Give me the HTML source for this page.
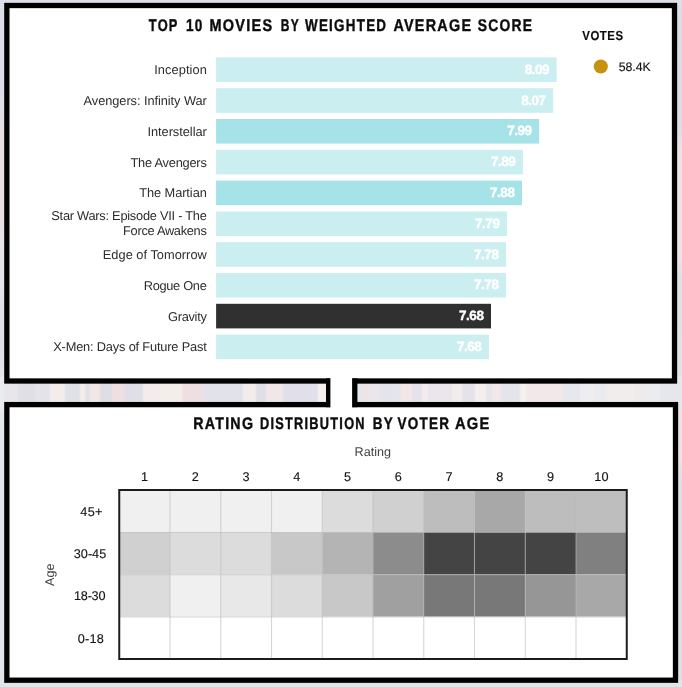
<!DOCTYPE html>
<html lang="en">
<head>
<meta charset="utf-8">
<title>Top 10 Movies Dashboard</title>
<style>
html,body{margin:0;padding:0;background:#e3e2e9;}
body{width:682px;height:687px;overflow:hidden;position:relative;}
svg{display:block;position:absolute;left:0;top:0;will-change:transform;}
text{text-rendering:geometricPrecision;}
text{font-family:"Liberation Sans",Arial,sans-serif;}
.t{font-weight:700;fill:#0c0c0c;stroke:#0c0c0c;stroke-width:0.4px;}
.lab{font-size:12.8px;fill:#2c2c2c;}
.val{font-size:13.5px;font-weight:700;text-anchor:end;letter-spacing:-0.5px;stroke:#fff;stroke-width:0.4px;}
.ax{font-size:12.7px;fill:#151515;stroke:#151515;stroke-width:0.15px;text-anchor:middle;}
.axt{font-size:12.6px;fill:#444;text-anchor:middle;}
</style>
</head>
<body>
<svg width="682" height="687" viewBox="0 0 682 687">
<defs>
<linearGradient id="bgv" x1="0" y1="0" x2="0" y2="1">
<stop offset="0" stop-color="#dcdee8"/>
<stop offset="0.13" stop-color="#dedee8"/>
<stop offset="0.20" stop-color="#e8dfe4"/>
<stop offset="0.30" stop-color="#e8e0e5"/>
<stop offset="0.40" stop-color="#e5e4ea"/>
<stop offset="0.50" stop-color="#dddfe5"/>
<stop offset="0.565" stop-color="#e8eaee"/>
<stop offset="0.62" stop-color="#e3e6ea"/>
<stop offset="1" stop-color="#e1e4e8"/>
</linearGradient>
<linearGradient id="bgr" x1="0" y1="0" x2="0" y2="1">
<stop offset="0" stop-color="#dcdce6"/>
<stop offset="0.18" stop-color="#dedde6"/>
<stop offset="0.22" stop-color="#efe2e6"/>
<stop offset="0.37" stop-color="#efe2e6"/>
<stop offset="0.40" stop-color="#dfe1e6"/>
<stop offset="0.55" stop-color="#e0e2e8"/>
<stop offset="0.59" stop-color="#efe1e5"/>
<stop offset="0.67" stop-color="#eee1e5"/>
<stop offset="0.70" stop-color="#dedfe5"/>
<stop offset="1" stop-color="#dedfe4"/>
</linearGradient>
<linearGradient id="bgh" x1="0" y1="0" x2="1" y2="0">
<stop offset="0.0000" stop-color="#e9ebee"/><stop offset="0.0041" stop-color="#e9ebee"/>
<stop offset="0.0076" stop-color="#e8e6eb"/><stop offset="0.0246" stop-color="#e8e6eb"/>
<stop offset="0.0282" stop-color="#e0dfe6"/><stop offset="0.0496" stop-color="#e0dfe6"/>
<stop offset="0.0531" stop-color="#e4e3ea"/><stop offset="0.0716" stop-color="#e4e3ea"/>
<stop offset="0.0751" stop-color="#f3eceb"/><stop offset="0.0935" stop-color="#f3eceb"/>
<stop offset="0.0971" stop-color="#e0e0e7"/><stop offset="0.1155" stop-color="#e0e0e7"/>
<stop offset="0.1191" stop-color="#f3eeea"/><stop offset="0.1229" stop-color="#f3eeea"/>
<stop offset="0.1264" stop-color="#e3e1e8"/><stop offset="0.1302" stop-color="#e3e1e8"/>
<stop offset="0.1337" stop-color="#f0e7e6"/><stop offset="0.1449" stop-color="#f0e7e6"/>
<stop offset="0.1484" stop-color="#dcdde5"/><stop offset="0.1625" stop-color="#dcdde5"/>
<stop offset="0.1660" stop-color="#f0dfe0"/><stop offset="0.1801" stop-color="#f0dfe0"/>
<stop offset="0.1836" stop-color="#e0dfe8"/><stop offset="0.2079" stop-color="#e0dfe8"/>
<stop offset="0.2114" stop-color="#f4ecea"/><stop offset="0.2328" stop-color="#f4ecea"/>
<stop offset="0.2364" stop-color="#f4eeeb"/><stop offset="0.2651" stop-color="#f4eeeb"/>
<stop offset="0.2686" stop-color="#eedfe2"/><stop offset="0.2959" stop-color="#eedfe2"/>
<stop offset="0.2994" stop-color="#e2e3ea"/><stop offset="0.3545" stop-color="#e2e3ea"/>
<stop offset="0.3581" stop-color="#f3eced"/><stop offset="0.3736" stop-color="#f3eced"/>
<stop offset="0.3771" stop-color="#e0dfe8"/><stop offset="0.3883" stop-color="#e0dfe8"/>
<stop offset="0.3918" stop-color="#f1e7e8"/><stop offset="0.4132" stop-color="#f1e7e8"/>
<stop offset="0.4167" stop-color="#e1e0ea"/><stop offset="0.4645" stop-color="#e1e0ea"/>
<stop offset="0.4680" stop-color="#f6efed"/><stop offset="0.4821" stop-color="#f6efed"/>
<stop offset="0.4856" stop-color="#eae8ed"/><stop offset="0.5217" stop-color="#eae8ed"/>
<stop offset="0.5252" stop-color="#e6e6ed"/><stop offset="0.5305" stop-color="#e6e6ed"/>
<stop offset="0.5340" stop-color="#f0e3e4"/><stop offset="0.5364" stop-color="#f0e3e4"/>
<stop offset="0.5399" stop-color="#eae7ec"/><stop offset="0.5554" stop-color="#eae7ec"/>
<stop offset="0.5589" stop-color="#e4e4ec"/><stop offset="0.5848" stop-color="#e4e4ec"/>
<stop offset="0.5883" stop-color="#f1e7e8"/><stop offset="0.6023" stop-color="#f1e7e8"/>
<stop offset="0.6059" stop-color="#e4e2eb"/><stop offset="0.6170" stop-color="#e4e2eb"/>
<stop offset="0.6205" stop-color="#f2edec"/><stop offset="0.6258" stop-color="#f2edec"/>
<stop offset="0.6293" stop-color="#eae6eb"/><stop offset="0.6610" stop-color="#eae6eb"/>
<stop offset="0.6645" stop-color="#f2eded"/><stop offset="0.6757" stop-color="#f2eded"/>
<stop offset="0.6792" stop-color="#e4e3eb"/><stop offset="0.6947" stop-color="#e4e3eb"/>
<stop offset="0.6982" stop-color="#f4eeed"/><stop offset="0.7109" stop-color="#f4eeed"/>
<stop offset="0.7144" stop-color="#e6e4ec"/><stop offset="0.7196" stop-color="#e6e4ec"/>
<stop offset="0.7232" stop-color="#f1e8e9"/><stop offset="0.7328" stop-color="#f1e8e9"/>
<stop offset="0.7364" stop-color="#e4e4ec"/><stop offset="0.7607" stop-color="#e4e4ec"/>
<stop offset="0.7642" stop-color="#f5f1f0"/><stop offset="0.7695" stop-color="#f5f1f0"/>
<stop offset="0.7730" stop-color="#f2e8e9"/><stop offset="0.8238" stop-color="#f2e8e9"/>
<stop offset="0.8273" stop-color="#e7e8ee"/><stop offset="0.8487" stop-color="#e7e8ee"/>
<stop offset="0.8522" stop-color="#eeeef1"/><stop offset="0.8707" stop-color="#eeeef1"/>
<stop offset="0.8742" stop-color="#eaebee"/><stop offset="0.8868" stop-color="#eaebee"/>
<stop offset="0.8903" stop-color="#f1edec"/><stop offset="0.9279" stop-color="#f1edec"/>
<stop offset="0.9314" stop-color="#eeebec"/><stop offset="0.9513" stop-color="#eeebec"/>
<stop offset="0.9548" stop-color="#ebecf0"/><stop offset="0.9660" stop-color="#ebecf0"/>
<stop offset="0.9695" stop-color="#e6e7ed"/><stop offset="0.9982" stop-color="#e6e7ed"/>
</linearGradient>
</defs>
<rect x="0" y="0" width="682" height="687" fill="url(#bgv)"/>
<rect x="660" y="8" width="22" height="672" fill="url(#bgr)"/>
<rect x="0" y="376" width="682" height="34" fill="url(#bgh)"/>
<rect x="6.85" y="5.5" width="667.65" height="375.5" fill="#ffffff" stroke="#000" stroke-width="5.3"/>
<rect x="6.85" y="404.6" width="668.65" height="275.6" fill="#ffffff" stroke="#000" stroke-width="5.3"/>
<rect x="326" y="378.4" width="31.4" height="28.8" fill="#000"/>
<rect x="330.4" y="376" width="21.7" height="34" fill="#fff"/>
<text class="t" transform="translate(148.8,30.8) scale(0.756,1)" font-size="17.0" textLength="37.9" lengthAdjust="spacing">TOP</text>
<text class="t" transform="translate(186.0,30.8) scale(0.801,1)" font-size="17.0" textLength="20.5" lengthAdjust="spacing">10</text>
<text class="t" transform="translate(209.5,30.8) scale(0.851,1)" font-size="17.0" textLength="73.5" lengthAdjust="spacing">MOVIES</text>
<text class="t" transform="translate(280.8,30.8) scale(0.705,1)" font-size="17.0" textLength="25.4" lengthAdjust="spacing">BY</text>
<text class="t" transform="translate(305.0,30.8) scale(0.789,1)" font-size="17.0" textLength="102.7" lengthAdjust="spacing">WEIGHTED</text>
<text class="t" transform="translate(393.4,30.8) scale(0.847,1)" font-size="17.0" textLength="91.7" lengthAdjust="spacing">AVERAGE</text>
<text class="t" transform="translate(477.8,30.8) scale(0.815,1)" font-size="17.0" textLength="66.6" lengthAdjust="spacing">SCORE</text>
<rect x="216.1" y="57.40" width="340.60" height="24.6" fill="#cbeef1"/>
<text class="val" x="549.1" y="73.8" fill="#ffffff">8.09</text>
<text class="lab" x="154.2" y="74.2" textLength="52.6" lengthAdjust="spacing">Inception</text>
<rect x="216.1" y="88.20" width="337.10" height="24.6" fill="#cbeef1"/>
<text class="val" x="545.6" y="104.6" fill="#ffffff">8.07</text>
<text class="lab" x="83.6" y="105.0" textLength="123.2" lengthAdjust="spacing">Avengers: Infinity War</text>
<rect x="216.1" y="119.00" width="323.00" height="24.6" fill="#a5e3e9"/>
<text class="val" x="531.5" y="135.4" fill="#ffffff">7.99</text>
<text class="lab" x="147.4" y="135.8" textLength="59.4" lengthAdjust="spacing">Interstellar</text>
<rect x="216.1" y="149.80" width="306.80" height="24.6" fill="#cbeef1"/>
<text class="val" x="515.3" y="166.2" fill="#ffffff">7.89</text>
<text class="lab" x="130.5" y="166.6" textLength="76.3" lengthAdjust="spacing">The Avengers</text>
<rect x="216.1" y="180.60" width="305.90" height="24.6" fill="#a5e3e9"/>
<text class="val" x="514.4" y="197.0" fill="#ffffff">7.88</text>
<text class="lab" x="139.2" y="197.4" textLength="67.6" lengthAdjust="spacing">The Martian</text>
<rect x="216.1" y="211.40" width="290.90" height="24.6" fill="#cbeef1"/>
<text class="val" x="499.4" y="227.8" fill="#ffffff">7.79</text>
<text class="lab" x="51.3" y="219.9" textLength="155.5" lengthAdjust="spacing">Star Wars: Episode VII - The</text>
<text class="lab" x="123.1" y="235.2" textLength="83.7" lengthAdjust="spacing">Force Awakens</text>
<rect x="216.1" y="242.20" width="289.90" height="24.6" fill="#cbeef1"/>
<text class="val" x="498.4" y="258.6" fill="#ffffff">7.78</text>
<text class="lab" x="102.8" y="259.0" textLength="104.0" lengthAdjust="spacing">Edge of Tomorrow</text>
<rect x="216.1" y="273.00" width="289.90" height="24.6" fill="#cbeef1"/>
<text class="val" x="498.4" y="289.4" fill="#ffffff">7.78</text>
<text class="lab" x="143.7" y="289.8" textLength="63.1" lengthAdjust="spacing">Rogue One</text>
<rect x="216.1" y="303.80" width="274.90" height="24.6" fill="#303030"/>
<text class="val" x="483.4" y="320.2" fill="#ffffff">7.68</text>
<text class="lab" x="168.0" y="320.6" textLength="38.8" lengthAdjust="spacing">Gravity</text>
<rect x="216.1" y="334.60" width="272.80" height="24.6" fill="#cbeef1"/>
<text class="val" x="481.3" y="351.0" fill="#ffffff">7.68</text>
<text class="lab" x="53.2" y="351.4" textLength="153.6" lengthAdjust="spacing">X-Men: Days of Future Past</text>
<text class="t" style="stroke-width:0.15px" transform="translate(582.3,40.1) scale(0.88,1)" font-size="13.0" textLength="46.4" lengthAdjust="spacing">VOTES</text>
<circle cx="600.8" cy="66.5" r="7.05" fill="#c8920f"/>
<text x="618.8" y="71.1" font-size="12.3" fill="#141414" stroke="#141414" stroke-width="0.15" textLength="31.8" lengthAdjust="spacing">58.4K</text>
<text class="t" transform="translate(193.2,429.3) scale(0.853,1)" font-size="16.7" textLength="70.1" lengthAdjust="spacing">RATING</text>
<text class="t" transform="translate(260.0,429.3) scale(0.765,1)" font-size="16.7" textLength="136.7" lengthAdjust="spacing">DISTRIBUTION</text>
<text class="t" transform="translate(372.8,429.3) scale(0.808,1)" font-size="16.7" textLength="24.7" lengthAdjust="spacing">BY</text>
<text class="t" transform="translate(397.5,429.3) scale(0.808,1)" font-size="16.7" textLength="63.7" lengthAdjust="spacing">VOTER</text>
<text class="t" transform="translate(455.0,429.3) scale(0.881,1)" font-size="16.7" textLength="39.0" lengthAdjust="spacing">AGE</text>
<text class="axt" x="372.8" y="456.0">Rating</text>
<text class="ax" x="144.6" y="480.6">1</text>
<text class="ax" x="195.4" y="480.6">2</text>
<text class="ax" x="246.1" y="480.6">3</text>
<text class="ax" x="296.9" y="480.6">4</text>
<text class="ax" x="347.6" y="480.6">5</text>
<text class="ax" x="398.4" y="480.6">6</text>
<text class="ax" x="449.1" y="480.6">7</text>
<text class="ax" x="499.9" y="480.6">8</text>
<text class="ax" x="550.6" y="480.6">9</text>
<text class="ax" x="601.4" y="480.6">10</text>
<text class="ax" style="text-anchor:start" x="80.2" y="515.8" textLength="22.3" lengthAdjust="spacing">45+</text>
<text class="ax" style="text-anchor:start" x="73.8" y="558.1" textLength="32.4" lengthAdjust="spacing">30-45</text>
<text class="ax" style="text-anchor:start" x="74.0" y="600.3" textLength="31.5" lengthAdjust="spacing">18-30</text>
<text class="ax" style="text-anchor:start" x="77.8" y="642.6" textLength="26.0" lengthAdjust="spacing">0-18</text>
<text class="axt" transform="translate(54.0,574.7) rotate(-90)" x="0" y="0">Age</text>
<rect x="119.25" y="490.00" width="50.75" height="42.25" fill="#f0f0f0"/>
<rect x="170.00" y="490.00" width="50.75" height="42.25" fill="#f0f0f0"/>
<rect x="220.75" y="490.00" width="50.75" height="42.25" fill="#f0f0f0"/>
<rect x="271.50" y="490.00" width="50.75" height="42.25" fill="#f0f0f0"/>
<rect x="322.25" y="490.00" width="50.75" height="42.25" fill="#dcdcdc"/>
<rect x="373.00" y="490.00" width="50.75" height="42.25" fill="#d0d0d0"/>
<rect x="423.75" y="490.00" width="50.75" height="42.25" fill="#bdbdbd"/>
<rect x="474.50" y="490.00" width="50.75" height="42.25" fill="#a8a8a8"/>
<rect x="525.25" y="490.00" width="50.75" height="42.25" fill="#bdbdbd"/>
<rect x="576.00" y="490.00" width="50.75" height="42.25" fill="#bebebe"/>
<rect x="119.25" y="532.25" width="50.75" height="42.25" fill="#d0d0d0"/>
<rect x="170.00" y="532.25" width="50.75" height="42.25" fill="#dcdcdc"/>
<rect x="220.75" y="532.25" width="50.75" height="42.25" fill="#dcdcdc"/>
<rect x="271.50" y="532.25" width="50.75" height="42.25" fill="#c8c8c8"/>
<rect x="322.25" y="532.25" width="50.75" height="42.25" fill="#b4b4b4"/>
<rect x="373.00" y="532.25" width="50.75" height="42.25" fill="#8c8c8c"/>
<rect x="423.75" y="532.25" width="50.75" height="42.25" fill="#444444"/>
<rect x="474.50" y="532.25" width="50.75" height="42.25" fill="#444444"/>
<rect x="525.25" y="532.25" width="50.75" height="42.25" fill="#444444"/>
<rect x="576.00" y="532.25" width="50.75" height="42.25" fill="#808080"/>
<rect x="119.25" y="574.50" width="50.75" height="42.25" fill="#dcdcdc"/>
<rect x="170.00" y="574.50" width="50.75" height="42.25" fill="#f0f0f0"/>
<rect x="220.75" y="574.50" width="50.75" height="42.25" fill="#e8e8e8"/>
<rect x="271.50" y="574.50" width="50.75" height="42.25" fill="#dcdcdc"/>
<rect x="322.25" y="574.50" width="50.75" height="42.25" fill="#c8c8c8"/>
<rect x="373.00" y="574.50" width="50.75" height="42.25" fill="#a0a0a0"/>
<rect x="423.75" y="574.50" width="50.75" height="42.25" fill="#787878"/>
<rect x="474.50" y="574.50" width="50.75" height="42.25" fill="#787878"/>
<rect x="525.25" y="574.50" width="50.75" height="42.25" fill="#969696"/>
<rect x="576.00" y="574.50" width="50.75" height="42.25" fill="#a8a8a8"/>
<rect x="119.25" y="616.75" width="50.75" height="42.25" fill="#ffffff"/>
<rect x="170.00" y="616.75" width="50.75" height="42.25" fill="#ffffff"/>
<rect x="220.75" y="616.75" width="50.75" height="42.25" fill="#ffffff"/>
<rect x="271.50" y="616.75" width="50.75" height="42.25" fill="#ffffff"/>
<rect x="322.25" y="616.75" width="50.75" height="42.25" fill="#ffffff"/>
<rect x="373.00" y="616.75" width="50.75" height="42.25" fill="#ffffff"/>
<rect x="423.75" y="616.75" width="50.75" height="42.25" fill="#ffffff"/>
<rect x="474.50" y="616.75" width="50.75" height="42.25" fill="#ffffff"/>
<rect x="525.25" y="616.75" width="50.75" height="42.25" fill="#ffffff"/>
<rect x="576.00" y="616.75" width="50.75" height="42.25" fill="#ffffff"/>
<line x1="170.00" y1="490.0" x2="170.00" y2="659.0" stroke="#bababa" stroke-opacity="0.6" stroke-width="1.1"/>
<line x1="220.75" y1="490.0" x2="220.75" y2="659.0" stroke="#bababa" stroke-opacity="0.6" stroke-width="1.1"/>
<line x1="271.50" y1="490.0" x2="271.50" y2="659.0" stroke="#bababa" stroke-opacity="0.6" stroke-width="1.1"/>
<line x1="322.25" y1="490.0" x2="322.25" y2="659.0" stroke="#bababa" stroke-opacity="0.6" stroke-width="1.1"/>
<line x1="373.00" y1="490.0" x2="373.00" y2="659.0" stroke="#bababa" stroke-opacity="0.6" stroke-width="1.1"/>
<line x1="423.75" y1="490.0" x2="423.75" y2="659.0" stroke="#bababa" stroke-opacity="0.6" stroke-width="1.1"/>
<line x1="474.50" y1="490.0" x2="474.50" y2="659.0" stroke="#bababa" stroke-opacity="0.6" stroke-width="1.1"/>
<line x1="525.25" y1="490.0" x2="525.25" y2="659.0" stroke="#bababa" stroke-opacity="0.6" stroke-width="1.1"/>
<line x1="576.00" y1="490.0" x2="576.00" y2="659.0" stroke="#bababa" stroke-opacity="0.6" stroke-width="1.1"/>
<line x1="119.25" y1="532.55" x2="626.75" y2="532.55" stroke="#bababa" stroke-opacity="0.6" stroke-width="1.1"/>
<line x1="119.25" y1="574.80" x2="626.75" y2="574.80" stroke="#bababa" stroke-opacity="0.6" stroke-width="1.1"/>
<line x1="119.25" y1="617.05" x2="626.75" y2="617.05" stroke="#bababa" stroke-opacity="0.6" stroke-width="1.1"/>
<rect x="119.25" y="490.0" width="507.5" height="169.0" fill="none" stroke="#1c1c1c" stroke-width="2"/>
</svg>
</body>
</html>
